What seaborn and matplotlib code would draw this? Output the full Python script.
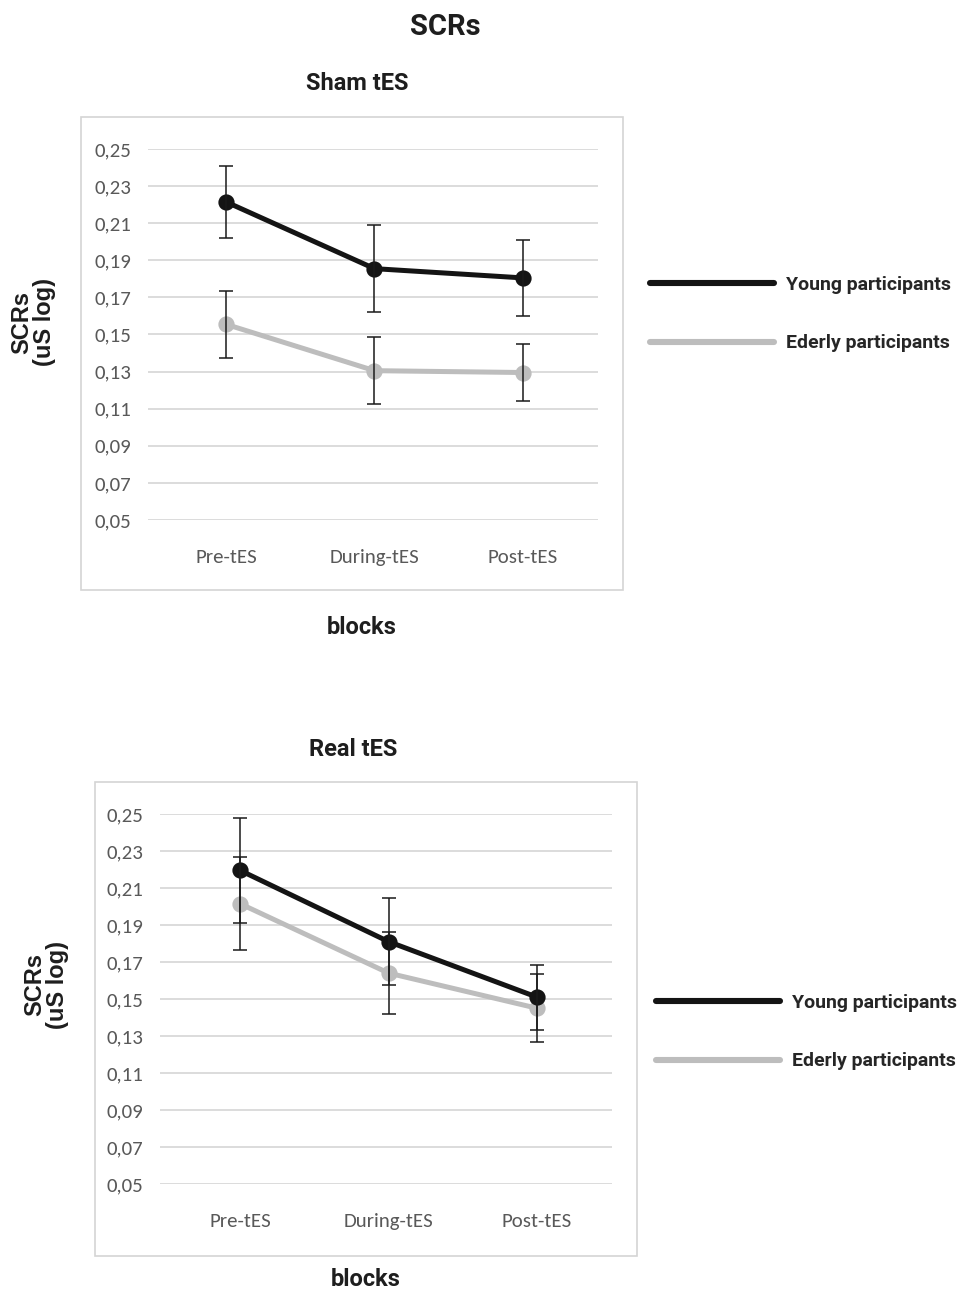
import numpy as np
import pandas as pd
import matplotlib
matplotlib.use("Agg")
import matplotlib.pyplot as plt
from matplotlib import font_manager
from matplotlib.lines import Line2D
from matplotlib.patches import Rectangle
from matplotlib.ticker import FuncFormatter
import seaborn as sns

# ---- data -------------------------------------------------------------
blocks = ["Pre-tES", "During-tES", "Post-tES"]
groups = ["Young participants", "Ederly participants"]

sham_young = [0.2215, 0.1855, 0.1805]
sham_young_err = [0.0195, 0.0235, 0.0205]
sham_elderly = [0.1555, 0.1305, 0.1295]
sham_elderly_err = [0.018, 0.018, 0.0152]

real_young = [0.2195, 0.1810, 0.1510]
real_young_err = [0.0285, 0.0235, 0.0175]
real_elderly = [0.2015, 0.1640, 0.1450]
real_elderly_err = [0.0250, 0.0220, 0.0185]

y_ticks = [0.05, 0.07, 0.09, 0.11, 0.13, 0.15, 0.17, 0.19, 0.21, 0.23, 0.25]

# ---- style -------------------------------------------------------------
sns.set_theme(style="white")
available = {f.name for f in font_manager.fontManager.ttflist}


def pick(*names):
    for n in names:
        if n in available:
            return n
    return "DejaVu Sans"


bold_font = pick("Liberation Sans Narrow", "Roboto", "Liberation Sans")
tick_font = pick("Carlito", "Lato", "Open Sans")
plt.rcParams["font.family"] = [tick_font, "DejaVu Sans"]

BLACK = "#141414"
GREY = "#bdbdbd"
palette = {groups[0]: BLACK, groups[1]: GREY}

W, H = 960, 1295
fig = plt.figure(figsize=(W / 100, H / 100), dpi=100)


def fx(px):
    return px / W


def fy(py):
    return 1 - py / H


def panel(box, axbox, xlim, title, title_y, xlabel_y, ylab_x, ylab_y,
          young, young_err, elderly, elderly_err, legend_xy):
    bx0, by0, bx1, by1 = box
    # chart-area frame behind the plot
    fig.patches.append(Rectangle((fx(bx0), fy(by1)), fx(bx1 - bx0), (by1 - by0) / H,
                                 transform=fig.transFigure, facecolor="white",
                                 edgecolor="#d4d4d4", linewidth=1.2, zorder=-5))
    ax0, ay0, ax1, ay1 = axbox
    ax = fig.add_axes([fx(ax0), fy(ay1), fx(ax1 - ax0), (ay1 - ay0) / H])
    ax.set_facecolor("none")
    ax.set_zorder(2)

    df = pd.DataFrame({
        "block": blocks * 2,
        "group": [groups[0]] * 3 + [groups[1]] * 3,
        "value": list(young) + list(elderly),
    })
    sns.pointplot(data=df, x="block", y="value", hue="group", order=blocks,
                  hue_order=groups[::-1], palette=palette, errorbar=None,
                  markers="o", markersize=9, linewidth=3.6, ax=ax, legend=False)
    for vals, errs in ((elderly, elderly_err), (young, young_err)):
        ax.errorbar(np.arange(len(blocks)), vals, yerr=errs, fmt="none",
                    ecolor="#1a1a1a", elinewidth=1.1, capsize=5, capthick=1.1,
                    zorder=5)

    ax.set_xlim(*xlim)
    ax.set_ylim(0.05, 0.25)
    ax.set_yticks(y_ticks)
    ax.yaxis.set_major_formatter(FuncFormatter(lambda v, p: f"{v:.2f}".replace(".", ",")))
    ax.grid(axis="y", color="#d9d9d9", linewidth=1.3)
    ax.grid(axis="x", visible=False)
    ax.set_axisbelow(True)
    for s in ax.spines.values():
        s.set_visible(False)
    ax.tick_params(axis="both", length=0, labelsize=15, colors="#595959")
    ax.tick_params(axis="y", pad=12)
    ax.tick_params(axis="x", pad=21)
    ax.set_xlabel("")
    ax.set_ylabel("")

    fig.text(fx(title_y[0]), fy(title_y[1]), title, ha="center", va="center",
             fontsize=17, fontweight="bold", family=bold_font, color="#1e1e1e")
    fig.text(fx(xlabel_y[0]), fy(xlabel_y[1]), "blocks", ha="center", va="center",
             fontsize=17, fontweight="bold", family=bold_font, color="#1e1e1e")
    fig.text(fx(ylab_x), fy(ylab_y), "SCRs\n(uS log)", ha="center", va="center",
             rotation=90, fontsize=17, fontweight="bold", family="Liberation Sans",
             color="#1e1e1e", linespacing=0.95)

    handles = [Line2D([], [], color=BLACK, linewidth=4.4),
               Line2D([], [], color=GREY, linewidth=4.4)]
    fig.legend(handles, groups, loc="upper left",
               bbox_to_anchor=(fx(legend_xy[0]), fy(legend_xy[1])),
               frameon=False, handlelength=6.4, handletextpad=0.6,
               labelspacing=2.1, prop={"family": bold_font, "weight": "bold", "size": 14})
    return ax


fig.text(fx(445), fy(27), "SCRs", ha="center", va="center", fontsize=21,
         fontweight="bold", family=bold_font, color="#1e1e1e")

panel(box=(81, 117, 623, 590), axbox=(148, 149, 598, 520), xlim=(-0.525, 2.505),
      title="Sham tES", title_y=(357, 84), xlabel_y=(362, 628),
      ylab_x=33, ylab_y=322,
      young=sham_young, young_err=sham_young_err,
      elderly=sham_elderly, elderly_err=sham_elderly_err,
      legend_xy=(632, 258))

panel(box=(95, 782, 637, 1256), axbox=(160, 814, 612, 1184), xlim=(-0.54, 2.505),
      title="Real tES", title_y=(353, 750), xlabel_y=(366, 1280),
      ylab_x=46, ylab_y=985,
      young=real_young, young_err=real_young_err,
      elderly=real_elderly, elderly_err=real_elderly_err,
      legend_xy=(638, 976))

fig.savefig("out.png", dpi=100)
